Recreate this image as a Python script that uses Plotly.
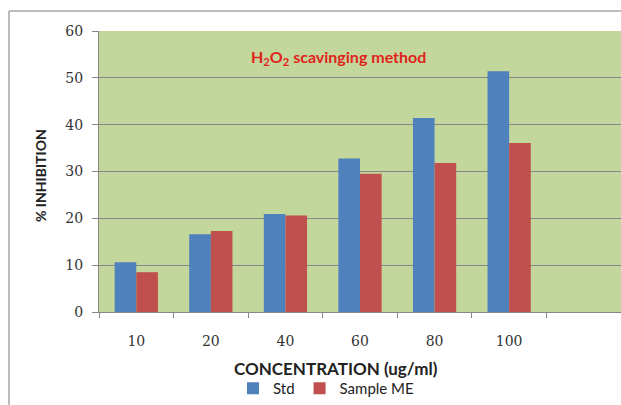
import plotly.graph_objects as go

categories = ["10", "20", "40", "60", "80", "100"]
std_values = [10.6, 16.6, 20.9, 32.8, 41.4, 51.4]
sample_values = [8.5, 17.3, 20.6, 29.5, 31.8, 36.1]
y_ticks = [0, 10, 20, 30, 40, 50, 60]

W, H = 621, 405
L, R, T, B = 99, 0, 31, 93
pw, ph = W - L - R, H - T - B

def px_x(p):
    return (p - L) / pw

def px_y(p):
    return (H - B - p) / ph

fig = go.Figure()
fig.add_bar(x=categories, y=std_values, name="Std", marker_color="#4f81bd", marker_line_width=0)
fig.add_bar(x=categories, y=sample_values, name="Sample ME", marker_color="#c0504d", marker_line_width=0)

fig.update_layout(
    width=W, height=H,
    margin=dict(l=L, r=R, t=T, b=B),
    paper_bgcolor="white",
    plot_bgcolor="#c3d69b",
    bargap=0.42,
    bargroupgap=0,
    showlegend=True,
    legend=dict(orientation="h", x=px_x(326), y=px_y(389), xanchor="center", yanchor="middle",
                font=dict(family="Lato", size=15, color="#222"), itemwidth=30,
                bgcolor="rgba(0,0,0,0)"),
    xaxis=dict(
        type="category", categoryorder="array", categoryarray=categories,
        range=[-0.5, 6.5], showgrid=False, showline=True, linecolor="#868686",
        ticks="outside", tickson="boundaries", ticklen=5, tickcolor="#868686",
        ticklabelstandoff=16,
        tickfont=dict(family="DejaVu Serif", size=14, color="#333"),
        fixedrange=True,
    ),
    yaxis=dict(
        range=[0, 60], tickvals=y_ticks, showgrid=True, gridcolor="#868686", gridwidth=1,
        showline=True, linecolor="#868686", ticks="outside", ticklen=6, tickcolor="#868686",
        ticklabelstandoff=6,
        tickfont=dict(family="DejaVu Serif", size=14, color="#333"), zeroline=False,
    ),
    annotations=[
        dict(text="<b>H<sub>2</sub>O<sub>2</sub> scavinging method</b>", x=px_x(338), y=px_y(57),
             xref="paper", yref="paper", showarrow=False, xanchor="center", yanchor="middle",
             font=dict(family="Lato", size=16, color="#e0241c")),
        dict(text="<b>CONCENTRATION (ug/ml)</b>", x=px_x(336), y=px_y(368),
             xref="paper", yref="paper", showarrow=False, xanchor="center", yanchor="middle",
             font=dict(family="Lato", size=17, color="#222")),
        dict(text="<b>% INHIBITION</b>", x=px_x(40), y=px_y(176), textangle=-90,
             xref="paper", yref="paper", showarrow=False, xanchor="center", yanchor="middle",
             font=dict(family="Lato", size=14, color="#222")),
    ],
    shapes=[
        dict(type="line", xref="paper", yref="paper", x0=px_x(9), x1=px_x(625), y0=px_y(11), y1=px_y(11),
             line=dict(color="#a6a6a6", width=1.5)),
        dict(type="line", xref="paper", yref="paper", x0=px_x(9), x1=px_x(9), y0=px_y(11), y1=px_y(410),
             line=dict(color="#a6a6a6", width=1.5)),
    ],
)

fig.write_html("out.html")
